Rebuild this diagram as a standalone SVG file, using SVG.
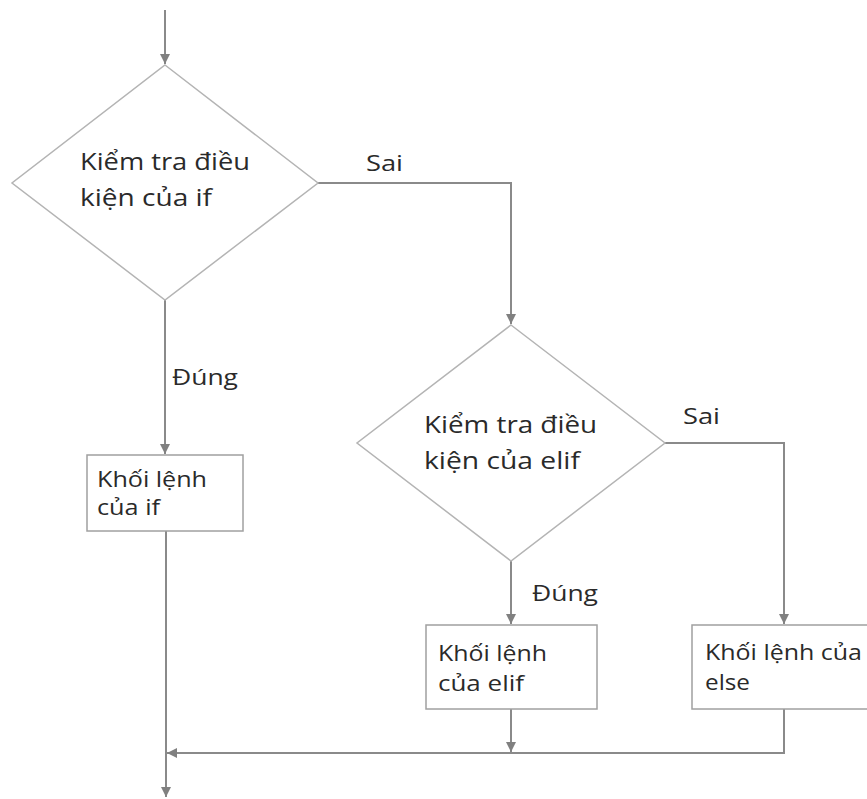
<svg xmlns="http://www.w3.org/2000/svg" width="867" height="799" viewBox="0 0 867 799">
<style>
.bg{fill:#fff}
.dia{fill:#fff;stroke:#b4b4b4;stroke-width:1.5}
.box{fill:#fff;stroke:#a0a0a0;stroke-width:1.5}
.ln{fill:none;stroke:#8a8a8a;stroke-width:2}
.t{font-family:"Open Sans","Noto Sans","DejaVu Sans",sans-serif;fill:#2a2a2a}
.td{font-size:23px}
.tb{font-size:21px}
.tl{font-size:22px}
</style>
<defs>
<marker id="ah" viewBox="0 0 10 10" refX="10" refY="5" markerWidth="10" markerHeight="10" markerUnits="userSpaceOnUse" orient="auto">
<path d="M0,0 L10,5 L0,10 z" fill="#808080"/>
</marker>
</defs>
<rect class="bg" x="0" y="0" width="867" height="799"/>
<g id="connectors">
<line class="ln" x1="165" y1="10" x2="165" y2="64" marker-end="url(#ah)"/>
<polyline class="ln" points="318,183 511,183 511,324" marker-end="url(#ah)"/>
<line class="ln" x1="165" y1="300" x2="165" y2="454" marker-end="url(#ah)"/>
<line class="ln" x1="511" y1="561" x2="511" y2="624" marker-end="url(#ah)"/>
<polyline class="ln" points="665,443 784,443 784,624" marker-end="url(#ah)"/>
<line class="ln" x1="511" y1="709" x2="511" y2="752" marker-end="url(#ah)"/>
<polyline class="ln" points="784,709 784,753 167,753" marker-end="url(#ah)"/>
<line class="ln" x1="166" y1="531" x2="166" y2="797" marker-end="url(#ah)"/>
<text class="t tl" x="366" y="171" textLength="37" lengthAdjust="spacingAndGlyphs">Sai</text>
<text class="t tl" x="683" y="424" textLength="37" lengthAdjust="spacingAndGlyphs">Sai</text>
<text class="t tl" x="172" y="385" textLength="66" lengthAdjust="spacingAndGlyphs">Đúng</text>
<text class="t tl" x="532" y="601" textLength="66" lengthAdjust="spacingAndGlyphs">Đúng</text>
</g>
<g id="if-cond">
<polygon class="dia" points="165,65 318,183 165,300 12,183"/>
<text class="t td" x="80" y="170" textLength="170" lengthAdjust="spacingAndGlyphs">Kiểm tra điều</text>
<text class="t td" x="80" y="206" textLength="132" lengthAdjust="spacingAndGlyphs">kiện của if</text>
</g>
<g id="elif-cond">
<polygon class="dia" points="511,325 665,443 511,561 357,443"/>
<text class="t td" x="424" y="433" textLength="173" lengthAdjust="spacingAndGlyphs">Kiểm tra điều</text>
<text class="t td" x="424" y="469" textLength="156" lengthAdjust="spacingAndGlyphs">kiện của elif</text>
</g>
<g id="if-block">
<rect class="box" x="87" y="455" width="156" height="76"/>
<text class="t tb" x="97" y="487" textLength="110" lengthAdjust="spacingAndGlyphs">Khối lệnh</text>
<text class="t tb" x="97" y="515" textLength="63" lengthAdjust="spacingAndGlyphs">của if</text>
</g>
<g id="elif-block">
<rect class="box" x="426" y="625" width="171" height="84"/>
<text class="t tb" x="438" y="661" textLength="109" lengthAdjust="spacingAndGlyphs">Khối lệnh</text>
<text class="t tb" x="438" y="691" textLength="86" lengthAdjust="spacingAndGlyphs">của elif</text>
</g>
<g id="else-block">
<rect class="box" x="692" y="625" width="185" height="84"/>
<text class="t tb" x="705" y="660" textLength="157" lengthAdjust="spacingAndGlyphs">Khối lệnh của</text>
<text class="t tb" x="705" y="690" textLength="45" lengthAdjust="spacingAndGlyphs">else</text>
</g>
</svg>
